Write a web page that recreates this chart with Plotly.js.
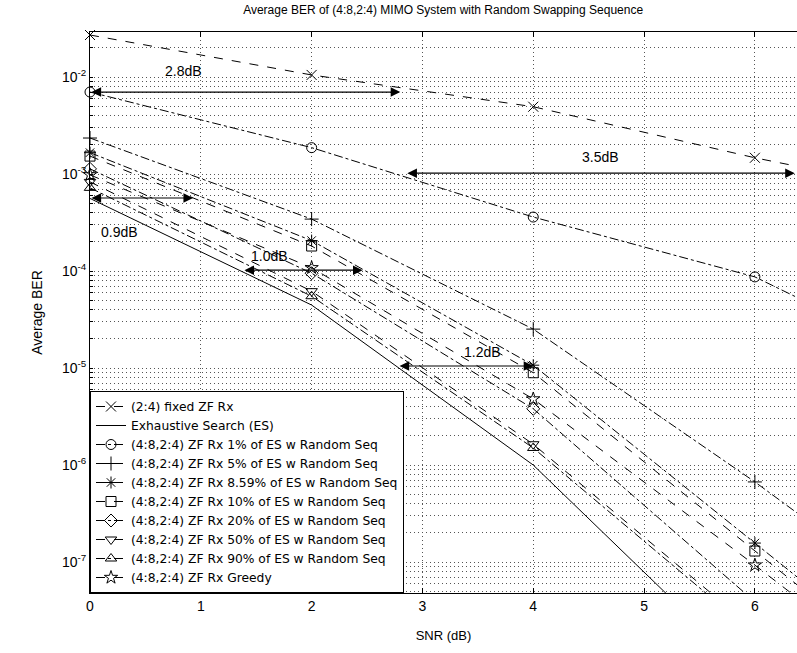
<!DOCTYPE html>
<html>
<head>
<meta charset="utf-8">
<script src="https://cdn.plot.ly/plotly-3.0.1.min.js"></script>
<style>html,body{margin:0;padding:0;background:#fff}#chart{width:797px;height:653px}</style>
</head>
<body>
<div id="chart"></div>
<script>
// ---- data ----
const snr = [0, 2, 4, 6, 8];
const berFixed  = [2.71e-2, 1.05e-2, 4.94e-3, 1.47e-3, 5.1e-4];
const berES     = [5.6e-4, 4.46e-5, 1.0e-6, 6.2e-9, null];
const ber1      = [7.0e-3, 1.87e-3, 3.6e-4, 8.7e-5, 6.7e-6];
const ber5      = [2.35e-3, 3.43e-4, 2.52e-5, 6.7e-7, 1.4e-8];
const ber859    = [1.66e-3, 2.06e-4, 1.07e-5, 1.57e-7, 2.3e-9];
const ber10     = [1.53e-3, 1.81e-4, 8.95e-6, 1.30e-7, 1.9e-9];
const ber20     = [1.13e-3, 9.5e-5, 3.8e-6, 4.0e-8, 4.0e-10];
const ber50     = [8.3e-4, 6.2e-5, 1.64e-6, 2.0e-8, 2.0e-10];
const ber90     = [7.2e-4, 5.5e-5, 1.5e-6, 1.8e-8, 1.8e-10];
const berGreedy = [9.8e-4, 1.08e-4, 4.8e-6, 9.3e-8, 1.6e-9];

const seriesNames = [
  "(2:4) fixed ZF Rx",
  "Exhaustive Search (ES)",
  "(4:8,2:4) ZF Rx 1% of ES w Random Seq",
  "(4:8,2:4) ZF Rx 5% of ES w Random Seq",
  "(4:8,2:4) ZF Rx 8.59% of ES w Random Seq",
  "(4:8,2:4) ZF Rx 10% of ES w Random Seq",
  "(4:8,2:4) ZF Rx 20% of ES w Random Seq",
  "(4:8,2:4) ZF Rx 50% of ES w Random Seq",
  "(4:8,2:4) ZF Rx 90% of ES w Random Seq",
  "(4:8,2:4) ZF Rx Greedy"
];
const seriesValues = [berFixed, berES, ber1, ber5, ber859, ber10, ber20, ber50, ber90, berGreedy];
const seriesSymbols = ["x-thin-open", null, "circle-open", "cross-thin-open", "asterisk-open",
  "square-open", "diamond-open", "triangle-down-open", "triangle-up-open", "star-open"];
const seriesDash = ["dash", "solid", "dashdot", "dashdot", "dashdot", "dash", "dashdot", "dash", "dashdot", "dash"];

// annotations
const dbLabels = ["2.8dB", "3.5dB", "0.9dB", "1.0dB", "1.2dB"];
const dbLabelX = [0.84, 4.61, 0.27, 1.62, 3.54];
const dbLabelY = [1.15e-2, 1.5e-3, 2.52e-4, 1.43e-4, 1.46e-5];
const dbFromX  = [0, 2.85, 0, 1.38, 2.78];
const dbToX    = [2.8, 6.36, 0.93, 2.46, 4.0];
const dbArrowY = [7.0e-3, 1.02e-3, 5.66e-4, 1.02e-4, 1.05e-5];

const FONT = "Liberation Sans, Arial, Helvetica, sans-serif";
const GRID = {showgrid: true, gridcolor: "#555", griddash: "1px,3px", gridwidth: 1};

const traces = seriesNames.map((name, i) => {
  const t = {
    x: snr, y: seriesValues[i], name: name, type: "scatter",
    mode: seriesSymbols[i] ? "lines+markers" : "lines",
    line: {color: "#000", width: 1, dash: seriesDash[i]},
    cliponaxis: false
  };
  if (seriesSymbols[i]) {
    t.marker = {symbol: seriesSymbols[i], size: 10, color: "#000", line: {color: "#000", width: 1}};
  }
  return t;
});

// y ticks: decades labelled, minor grid at 2..9
const yTickVals = [], yTickText = [];
for (let e = -8; e <= -1; e++) {
  for (let m = 1; m <= 9; m++) {
    yTickVals.push(m * Math.pow(10, e));
    yTickText.push(m === 1 ? "10<sup>" + e + "</sup>" : "");
  }
}

const annotations = [];
dbLabels.forEach((lab, i) => {
  annotations.push({
    x: dbToX[i], y: Math.log10(dbArrowY[i]),
    ax: dbFromX[i], ay: Math.log10(dbArrowY[i]), axref: "x", ayref: "y",
    xref: "x", yref: "y", text: "", showarrow: true,
    arrowside: "end+start", arrowhead: 2, arrowsize: 1.6, arrowwidth: 1.2, arrowcolor: "#000",
    standoff: 0, startstandoff: 0
  });
  annotations.push({
    x: dbLabelX[i], y: Math.log10(dbLabelY[i]), xref: "x", yref: "y",
    text: lab, showarrow: false, font: {family: FONT, size: 14, color: "#000"}
  });
});

const layout = {
  width: 797, height: 653,
  margin: {l: 90, r: 0, t: 32, b: 60},
  paper_bgcolor: "#fff", plot_bgcolor: "#fff",
  font: {family: FONT, size: 13, color: "#000"},
  title: {text: "Average BER of (4:8,2:4) MIMO System with Random Swapping Sequence",
          font: {family: FONT, size: 12, color: "#000"}, x: 0.556, xanchor: "center", y: 0.992, yanchor: "top"},
  xaxis: Object.assign({
    range: [0, 6.38], tickvals: [0, 1, 2, 3, 4, 5, 6], ticktext: ["0","1","2","3","4","5","6"],
    showline: true, linecolor: "#000", linewidth: 1, mirror: "ticks",
    ticks: "inside", ticklen: 5, tickcolor: "#000",
    zeroline: false, tickfont: {size: 14},
    title: {text: "SNR (dB)", font: {size: 13}, standoff: 18}
  }, GRID),
  yaxis: Object.assign({
    type: "log", range: [Math.log10(4.8e-8), Math.log10(2.91e-2)],
    tickvals: yTickVals, ticktext: yTickText,
    showline: true, linecolor: "#000", linewidth: 1, mirror: false,
    ticks: "inside", ticklen: 3, tickcolor: "#000",
    zeroline: false, tickfont: {size: 14},
    title: {text: "Average BER", font: {size: 14}, standoff: 16}
  }, GRID),
  legend: {
    x: 0, y: 0, xanchor: "left", yanchor: "bottom",
    bgcolor: "#fff", bordercolor: "#000", borderwidth: 1,
    font: {family: "DejaVu Sans, Liberation Sans, sans-serif", size: 12.3, color: "#000"},
    tracegroupgap: 0, itemwidth: 30
  },
  showlegend: true,
  annotations: annotations
};

Plotly.newPlot("chart", traces, layout, {displayModeBar: false, staticPlot: true});
</script>
</body>
</html>
